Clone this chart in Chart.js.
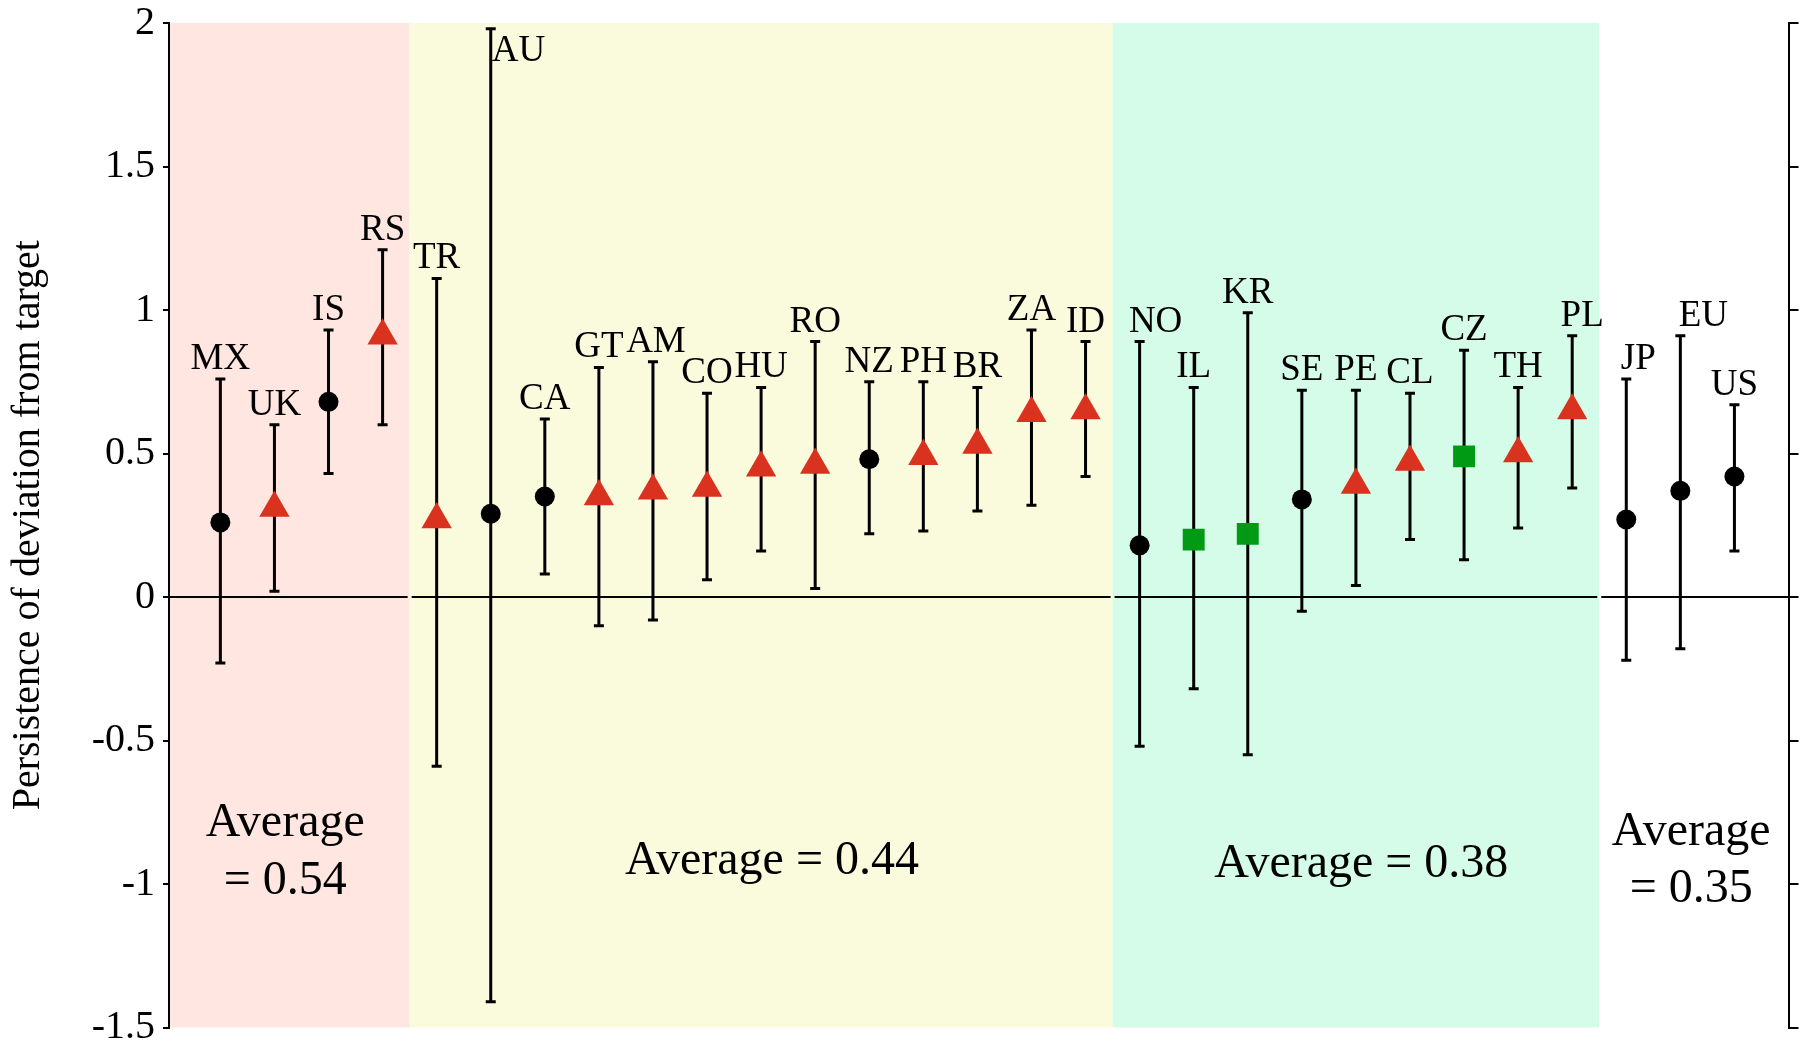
<!DOCTYPE html>
<html>
<head>
<meta charset="utf-8">
<script src="https://cdn.jsdelivr.net/npm/chart.js@4.4.1/dist/chart.umd.min.js"></script>
<style>
  html, body { margin: 0; padding: 0; background: #fff; }
  #wrap { width: 1806px; height: 1045px; }
</style>
</head>
<body>
<div id="wrap"><canvas id="persistenceCanvas" width="1806" height="1045"></canvas></div>
<script>
// country codes, left to right
const countries = ["MX", "UK", "IS", "RS", "TR", "AU", "CA", "GT", "AM", "CO", "HU", "RO", "NZ", "PH", "BR", "ZA", "ID",
  "NO", "IL", "KR", "SE", "PE", "CL", "CZ", "TH", "PL", "JP", "EU", "US"];
// point estimate and interval ends
const persistence = [0.26, 0.31, 0.68, 0.91, 0.27, 0.29, 0.35, 0.35, 0.37, 0.38, 0.45, 0.46, 0.48, 0.49, 0.53, 0.64, 0.65,
  0.18, 0.20, 0.22, 0.34, 0.39, 0.47, 0.49, 0.50, 0.65, 0.27, 0.37, 0.42];
const ciLow = [-0.23, 0.02, 0.43, 0.60, -0.59, -1.41, 0.08, -0.10, -0.08, 0.06, 0.16, 0.03, 0.22, 0.23, 0.30, 0.32, 0.42,
  -0.52, -0.32, -0.55, -0.05, 0.04, 0.20, 0.13, 0.24, 0.38, -0.22, -0.18, 0.16];
const ciHigh = [0.76, 0.60, 0.93, 1.21, 1.11, 1.98, 0.62, 0.80, 0.82, 0.71, 0.73, 0.89, 0.75, 0.75, 0.73, 0.93, 0.89,
  0.89, 0.73, 0.99, 0.72, 0.72, 0.71, 0.86, 0.73, 0.91, 0.76, 0.91, 0.67];
// marker kind per country
const markerGroup = ["dot", "tri", "dot", "tri", "tri", "dot", "dot", "tri", "tri", "tri", "tri", "tri", "dot", "tri", "tri", "tri", "tri",
  "dot", "sq", "sq", "dot", "tri", "tri", "sq", "tri", "tri", "dot", "dot", "dot"];
// shaded blocks: number of countries in each, and the block average
const blockSizes = [4, 13, 9, 3];
const blockAverages = [0.54, 0.44, 0.38, 0.35];
const yTicks = [-1.5, -1, -0.5, 0, 0.5, 1, 1.5, 2];

const serif = '"Liberation Serif", "Times New Roman", serif';
const markerStyle = {
  dot: { shape: "circle", radius: 10, color: "#000000" },
  tri: { shape: "triangle", radius: 17.5, color: "#d9321f" },
  sq: { shape: "rect", radius: 15.5, color: "#009a14" },
};
const blockFills = ["#ffe6e0", "#fafadc", "#d4fce8", null];

// where the "Average" notes sit (data units) and how they break
const averageNotes = [
  { x: 2.2, y: [-0.79, -0.99], split: true },
  { x: 11.2, y: [-0.92], split: false },
  { x: 22.1, y: [-0.93], split: false },
  { x: 28.2, y: [-0.82, -1.02], split: true },
];
// small label shifts where the original moved them off centre
const labelShift = { NO: 16, PL: 10, JP: 12, EU: 23, AM: 3 };

// block edges along x
const blockEdges = [];
let pos = 0.5;
blockSizes.forEach((n) => {
  blockEdges.push([pos, pos + n]);
  pos += n;
});

const overlayPlugin = {
  id: "overlay",
  beforeDraw(chart) {
    const { ctx, chartArea } = chart;
    const xs = chart.scales.x;
    ctx.save();
    blockEdges.forEach(([a, b], i) => {
      if (!blockFills[i]) return;
      const left = i === 0 ? chartArea.left : xs.getPixelForValue(a);
      const right = xs.getPixelForValue(b);
      ctx.fillStyle = blockFills[i];
      ctx.fillRect(left, chartArea.top, right - left, chartArea.bottom - chartArea.top);
    });
    ctx.restore();
  },
  beforeDatasetsDraw(chart) {
    const { ctx, chartArea } = chart;
    const xs = chart.scales.x;
    const ys = chart.scales.y;
    ctx.save();
    // zero line, broken at block edges
    const zeroY = ys.getPixelForValue(0);
    const cuts = blockEdges.slice(0, 3).map(([, b]) => xs.getPixelForValue(b));
    let start = chartArea.left;
    ctx.strokeStyle = "#000";
    ctx.lineWidth = 2;
    ctx.beginPath();
    cuts.forEach((c) => {
      ctx.moveTo(start, zeroY);
      ctx.lineTo(c - 2, zeroY);
      start = c + 2;
    });
    ctx.moveTo(start, zeroY);
    ctx.lineTo(chartArea.right, zeroY);
    ctx.stroke();

    // error bars
    ctx.lineWidth = 3;
    countries.forEach((c, i) => {
      const x = xs.getPixelForValue(i + 1);
      const top = ys.getPixelForValue(ciHigh[i]);
      const bottom = ys.getPixelForValue(ciLow[i]);
      ctx.beginPath();
      ctx.moveTo(x, top);
      ctx.lineTo(x, bottom);
      ctx.moveTo(x - 5, top);
      ctx.lineTo(x + 5, top);
      ctx.moveTo(x - 5, bottom);
      ctx.lineTo(x + 5, bottom);
      ctx.stroke();
    });
    ctx.restore();
  },
  afterDatasetsDraw(chart) {
    const { ctx } = chart;
    const xs = chart.scales.x;
    const ys = chart.scales.y;
    ctx.save();
    ctx.fillStyle = "#000";

    // country codes
    ctx.font = "37px " + serif;
    ctx.textBaseline = "alphabetic";
    countries.forEach((c, i) => {
      const x = xs.getPixelForValue(i + 1);
      const top = ys.getPixelForValue(ciHigh[i]);
      if (c === "AU") {
        ctx.textAlign = "left";
        ctx.fillText(c, x + 1, top + 32);
        return;
      }
      ctx.textAlign = "center";
      ctx.fillText(c, x + (labelShift[c] || 0), top - 10);
    });

    // block averages
    ctx.font = "48px " + serif;
    ctx.textAlign = "center";
    ctx.textBaseline = "middle";
    averageNotes.forEach((note, i) => {
      const value = blockAverages[i].toFixed(2);
      const lines = note.split ? ["Average", "= " + value] : ["Average = " + value];
      lines.forEach((line, k) => {
        ctx.fillText(line, xs.getPixelForValue(note.x), ys.getPixelForValue(note.y[k]));
      });
    });
    ctx.restore();
  },
};

const pointData = persistence.map((v, i) => ({ x: i + 1, y: v }));

const config = {
  type: "scatter",
  data: {
    datasets: [
      {
        data: pointData,
        showLine: false,
        pointStyle: markerGroup.map((g) => markerStyle[g].shape),
        pointRadius: markerGroup.map((g) => markerStyle[g].radius),
        pointBackgroundColor: markerGroup.map((g) => markerStyle[g].color),
        pointBorderColor: markerGroup.map((g) => markerStyle[g].color),
        pointBorderWidth: 0,
      },
    ],
  },
  options: {
    responsive: false,
    animation: false,
    devicePixelRatio: 1,
    events: [],
    layout: { padding: { top: 23, bottom: 15, left: 0, right: 0 } },
    plugins: {
      legend: { display: false },
      tooltip: { enabled: false },
    },
    scales: {
      x: {
        type: "linear",
        min: 0.05,
        max: 30,
        display: false,
      },
      y: {
        type: "linear",
        position: "left",
        min: -1.5,
        max: 2,
        afterBuildTicks: (axis) => {
          axis.ticks = yTicks.map((v) => ({ value: v }));
        },
        ticks: {
          color: "#000",
          font: { family: serif, size: 40 },
          padding: 8,
          callback: (v) => String(v),
        },
        grid: { drawOnChartArea: false, drawTicks: true, tickLength: 6, color: "#000", lineWidth: 2 },
        border: { color: "#000", width: 2 },
        title: {
          display: true,
          text: "Persistence of deviation from target",
          color: "#000",
          font: { family: serif, size: 40 },
          padding: { top: 4, bottom: 0 },
        },
        afterFit: (axis) => {
          axis.width = 169;
          axis.paddingTop = 0;
          axis.paddingBottom = 0;
        },
      },
      y2: {
        type: "linear",
        position: "right",
        min: -1.5,
        max: 2,
        afterBuildTicks: (axis) => {
          axis.ticks = yTicks.map((v) => ({ value: v }));
        },
        ticks: { display: false },
        grid: { drawOnChartArea: false, drawTicks: true, tickLength: 10, color: "#000", lineWidth: 2 },
        border: { color: "#000", width: 2 },
        afterFit: (axis) => {
          axis.width = 17;
          axis.paddingTop = 0;
          axis.paddingBottom = 0;
        },
      },
    },
  },
  plugins: [overlayPlugin],
};

new Chart(document.getElementById("persistenceCanvas"), config);
</script>
</body>
</html>
